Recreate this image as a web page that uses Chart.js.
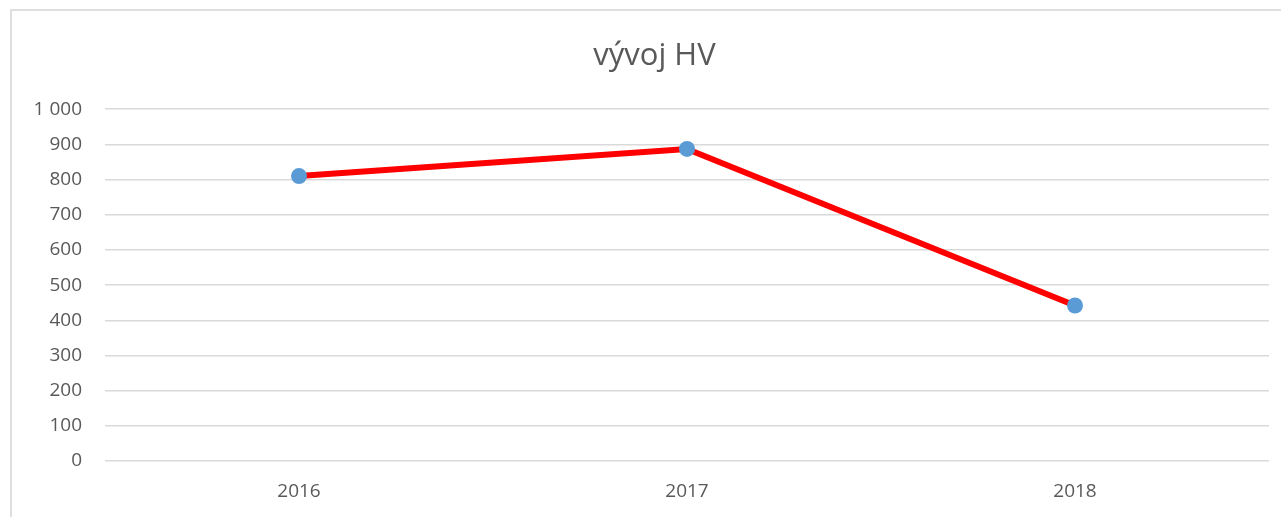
<!DOCTYPE html>
<html>
<head>
<meta charset="utf-8">
<script src="https://cdn.jsdelivr.net/npm/chart.js@4/dist/chart.umd.min.js"></script>
<style>
  html, body { margin: 0; padding: 0; background: #fff; overflow: hidden; }
  .frame { position: absolute; left: 10px; top: 9px; width: 2000px; height: 2000px; border: 2px solid #dedede; }
  .wrap { position: absolute; left: 0; top: 0; width: 1281px; height: 517px; }
</style>
</head>
<body>
<div class="frame"></div>
<div class="wrap"><canvas id="hvChart"></canvas></div>
<script>
// data
const YEARS = ['2016', '2017', '2018'];
const HV_VALUES = [810, 887, 442];
const Y_TICKS = [0, 100, 200, 300, 400, 500, 600, 700, 800, 900, 1000];

const FONT = "'Open Sans', 'Liberation Sans', sans-serif";

function fmtThousands(v) {
  return String(v).replace(/\B(?=(\d{3})+(?!\d))/g, ' ');
}

// shift the title box so it is centred like in the original frame
const titleShift = {
  id: 'titleShift',
  afterLayout(chart) {
    if (chart.titleBlock) chart.titleBlock.left = 40;
  }
};

const ctx = document.getElementById('hvChart').getContext('2d');
new Chart(ctx, {
  type: 'line',
  data: {
    labels: YEARS,
    datasets: [{
      label: 'HV',
      data: HV_VALUES,
      borderColor: '#ff0000',
      borderWidth: 6,
      tension: 0,
      fill: false,
      pointRadius: 8,
      pointHoverRadius: 8,
      pointBackgroundColor: '#5b9bd5',
      pointBorderColor: '#5b9bd5',
      pointBorderWidth: 0
    }]
  },
  options: {
    responsive: true,
    maintainAspectRatio: false,
    animation: false,
    layout: { padding: { left: 0, right: 12, top: 0, bottom: 0 } },
    plugins: {
      legend: { display: false },
      tooltip: { enabled: false },
      title: {
        display: true,
        text: 'vývoj HV',
        color: '#595959',
        font: { family: FONT, size: 31, weight: 'normal' },
        padding: { top: 38, bottom: 34 }
      }
    },
    scales: {
      x: {
        offset: true,
        grid: { display: false, drawTicks: false },
        border: { display: false },
        ticks: { color: '#595959', font: { family: FONT, size: 19 }, padding: 19 },
        afterFit: s => { s.height = 56; }
      },
      y: {
        min: 0,
        max: 1000,
        afterBuildTicks: s => { s.ticks = Y_TICKS.map(v => ({ value: v })); },
        grid: { color: '#d9d9d9', lineWidth: 1.5, drawTicks: false },
        border: { display: false },
        ticks: {
          color: '#595959',
          font: { family: FONT, size: 19 },
          padding: 23,
          callback: v => fmtThousands(v)
        },
        afterFit: s => { s.width = 105; }
      }
    }
  },
  plugins: [titleShift]
});
</script>
</body>
</html>
